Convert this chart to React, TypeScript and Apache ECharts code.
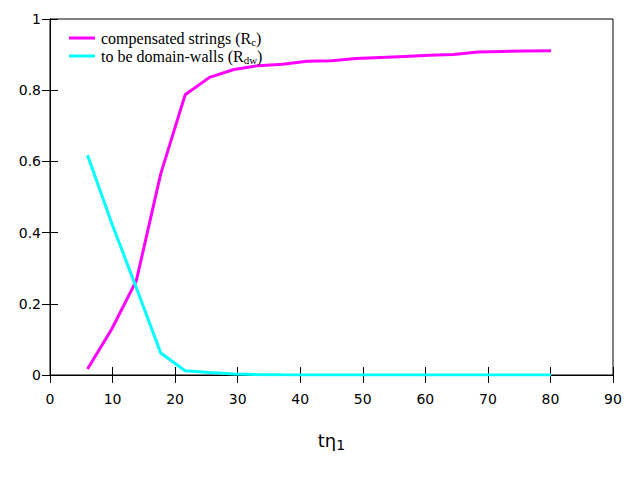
import React, { useEffect, useRef } from "react";
import * as echarts from "echarts";

const xValues = [6.0, 9.9, 13.8, 17.7, 21.6, 25.5, 29.4, 33.3, 37.2, 41.1, 45.0, 48.9, 52.8, 56.7, 60.6, 64.5, 68.4, 72.3, 76.2, 80.1];
const compensated = [0.017, 0.13, 0.265, 0.565, 0.787, 0.836, 0.858, 0.869, 0.873, 0.881, 0.883, 0.889, 0.892, 0.895, 0.898, 0.9, 0.907, 0.909, 0.91, 0.911];
const domainWalls = [0.617, 0.425, 0.245, 0.062, 0.012, 0.007, 0.003, 0.001, 0.0005, 0.0003, 0.0002, 0.0002, 0.0001, 0.0001, 0.0001, 0.0001, 0.0001, 0.0001, 0.0001, 0.0001];
const seriesNames = ["compensated strings", "to be domain-walls"];
const legendLabels = ["compensated strings (R{sub|c})", "to be domain-walls (R{sub|dw})"];

export default function App() {
  const ref = useRef<HTMLDivElement>(null);
  useEffect(() => {
    if (!ref.current) return;
    const chart = echarts.init(ref.current, undefined, { renderer: "svg" });
    const tickFont = { fontFamily: "DejaVu Sans", fontSize: 14, color: "#000" };
    const common = {
      min: 0,
      axisLine: { show: true, lineStyle: { color: "#000", width: 1 } },
      axisTick: { show: true, inside: true, length: 8, lineStyle: { color: "#000", width: 1 } },
      splitLine: { show: false },
    };
    chart.setOption({
      animation: false,
      backgroundColor: "#fff",
      grid: { left: 50, right: 27, top: 19, bottom: 105, show: true, borderColor: "#000", borderWidth: 1, backgroundColor: "transparent" },
      legend: {
        orient: "vertical",
        left: 64,
        top: 24,
        icon: "rect",
        itemWidth: 26,
        itemHeight: 3,
        itemGap: 0,
        data: seriesNames,
        formatter: (name: string) => legendLabels[seriesNames.indexOf(name)],
        textStyle: {
          fontFamily: "Liberation Serif",
          fontSize: 16,
          color: "#000",
          lineHeight: 18,
          padding: [0, 0, 0, 1],
          rich: {
            sub: { fontFamily: "Liberation Serif", fontSize: 11, lineHeight: 11, color: "#000", padding: [7, 0, 0, 0] },
          },
        },
      },
      xAxis: [
        {
          ...common,
          type: "value",
          max: 90,
          interval: 10,
          position: "bottom",
          axisLabel: { ...tickFont, margin: 17 },
          name: "tη{sub|1}",
          nameLocation: "middle",
          nameGap: 53,
          nameTextStyle: {
            fontFamily: "DejaVu Sans",
            fontSize: 18,
            color: "#000",
            rich: { sub: { fontFamily: "DejaVu Sans", fontSize: 14, color: "#000", padding: [10, 0, 0, 0] } },
          },
        },
        {
          ...common,
          type: "value",
          max: 90,
          interval: 10,
          position: "top",
          axisLabel: { show: false },
        },
      ],
      yAxis: [
        {
          ...common,
          type: "value",
          max: 1,
          interval: 0.2,
          position: "left",
          axisLabel: { ...tickFont, margin: 9 },
        },
        {
          ...common,
          type: "value",
          max: 1,
          interval: 0.2,
          position: "right",
          axisLabel: { show: false },
        },
      ],
      series: [
        {
          name: seriesNames[0],
          type: "line",
          showSymbol: false,
          symbol: "none",
          color: "#ff00ff",
          lineStyle: { color: "#ff00ff", width: 3 },
          data: xValues.map((x, i) => [x, compensated[i]]),
        },
        {
          name: seriesNames[1],
          type: "line",
          showSymbol: false,
          symbol: "none",
          color: "#00ffff",
          lineStyle: { color: "#00ffff", width: 3 },
          data: xValues.map((x, i) => [x, domainWalls[i]]),
        },
      ],
    });
    return () => chart.dispose();
  }, []);
  return <div ref={ref} style={{ position: "fixed", left: 0, top: 0, width: 640, height: 480 }} />;
}
